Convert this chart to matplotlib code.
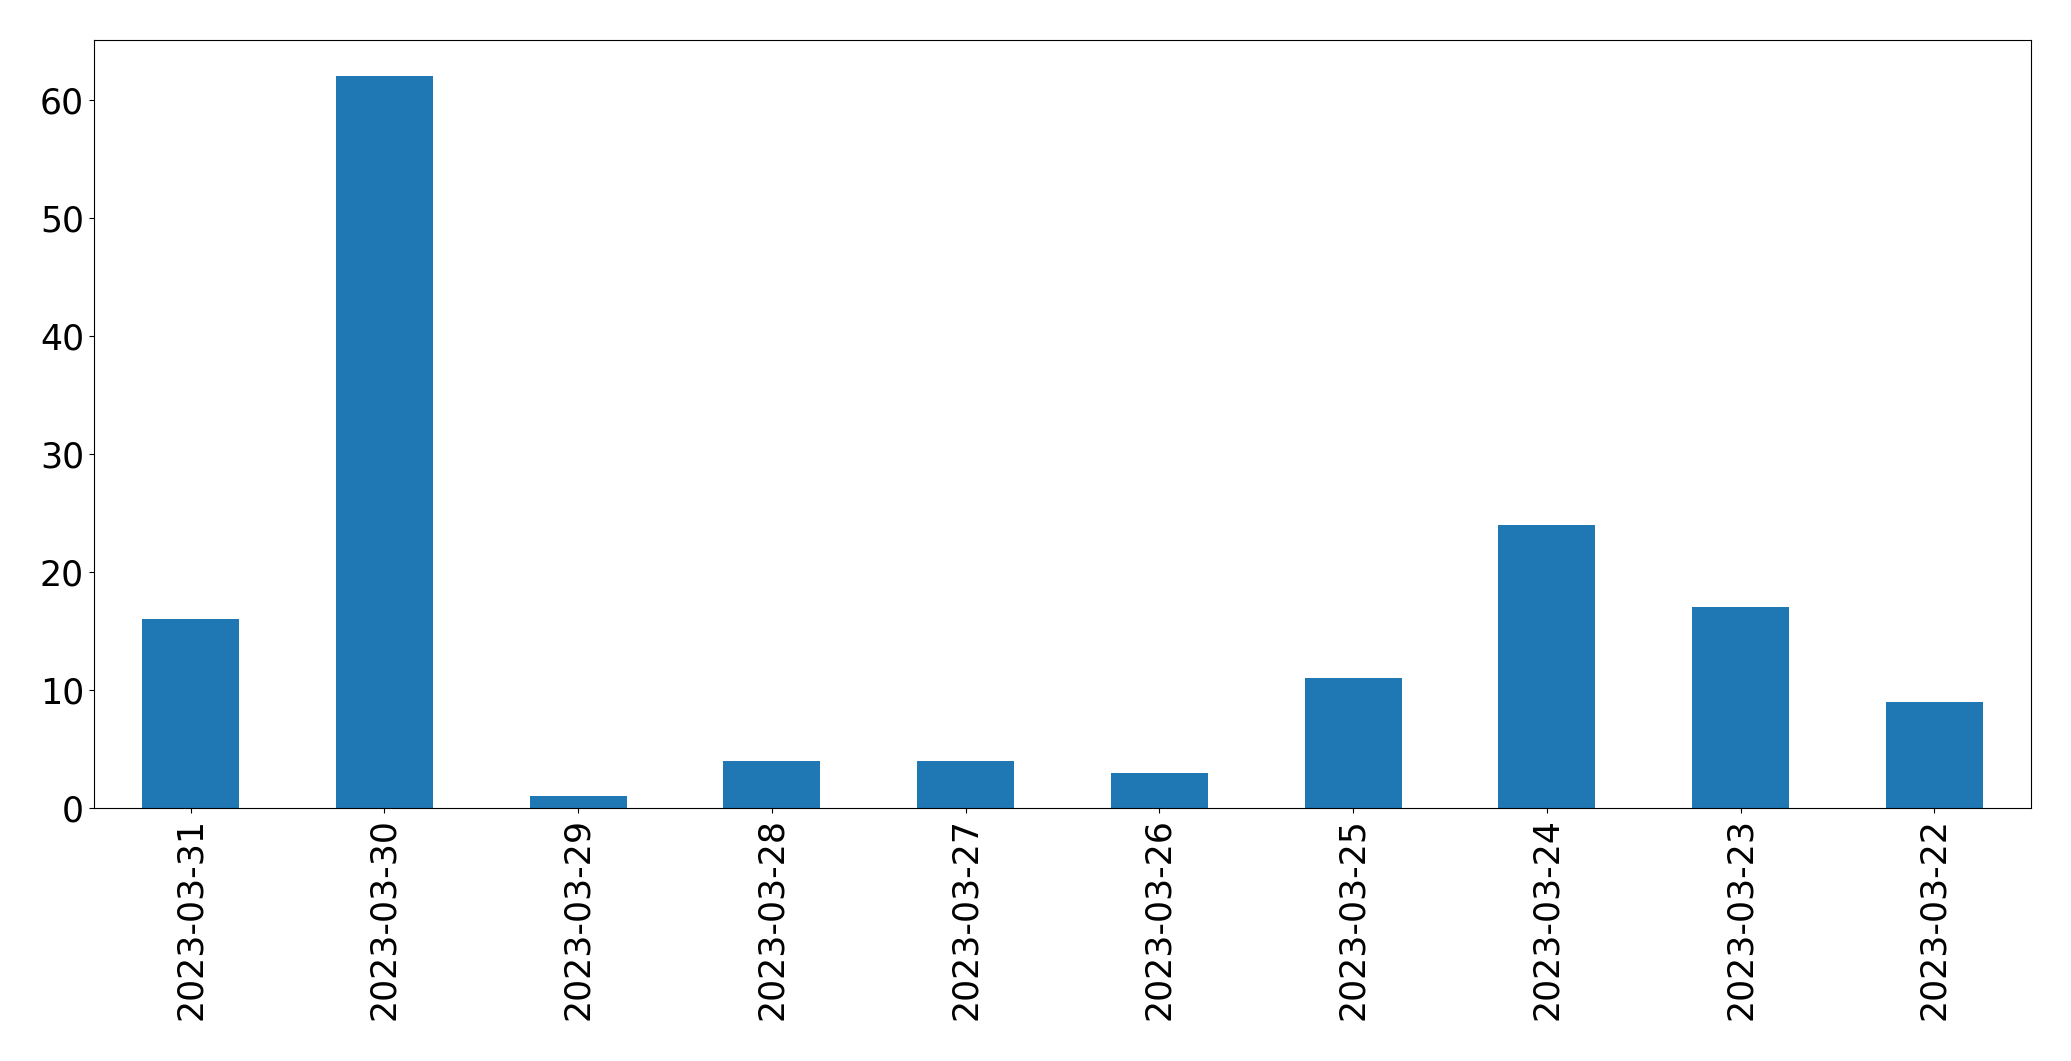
import pandas as pd
import matplotlib
matplotlib.use('Agg')
import matplotlib.pyplot as plt

# daily counts
dates = ['2023-03-31', '2023-03-30', '2023-03-29', '2023-03-28', '2023-03-27',
         '2023-03-26', '2023-03-25', '2023-03-24', '2023-03-23', '2023-03-22']
counts = [16, 62, 1, 4, 4, 3, 11, 24, 17, 9]

s = pd.Series(counts, index=dates)

fig, ax = plt.subplots(figsize=(20.71, 10.61), dpi=100)
s.plot(kind='bar', ax=ax, color='#1f77b4')
ax.tick_params(axis='both', labelsize=25)
fig.subplots_adjust(left=0.0453, right=0.9808, top=0.9627, bottom=0.2385)
fig.savefig('out.png', dpi=100)
